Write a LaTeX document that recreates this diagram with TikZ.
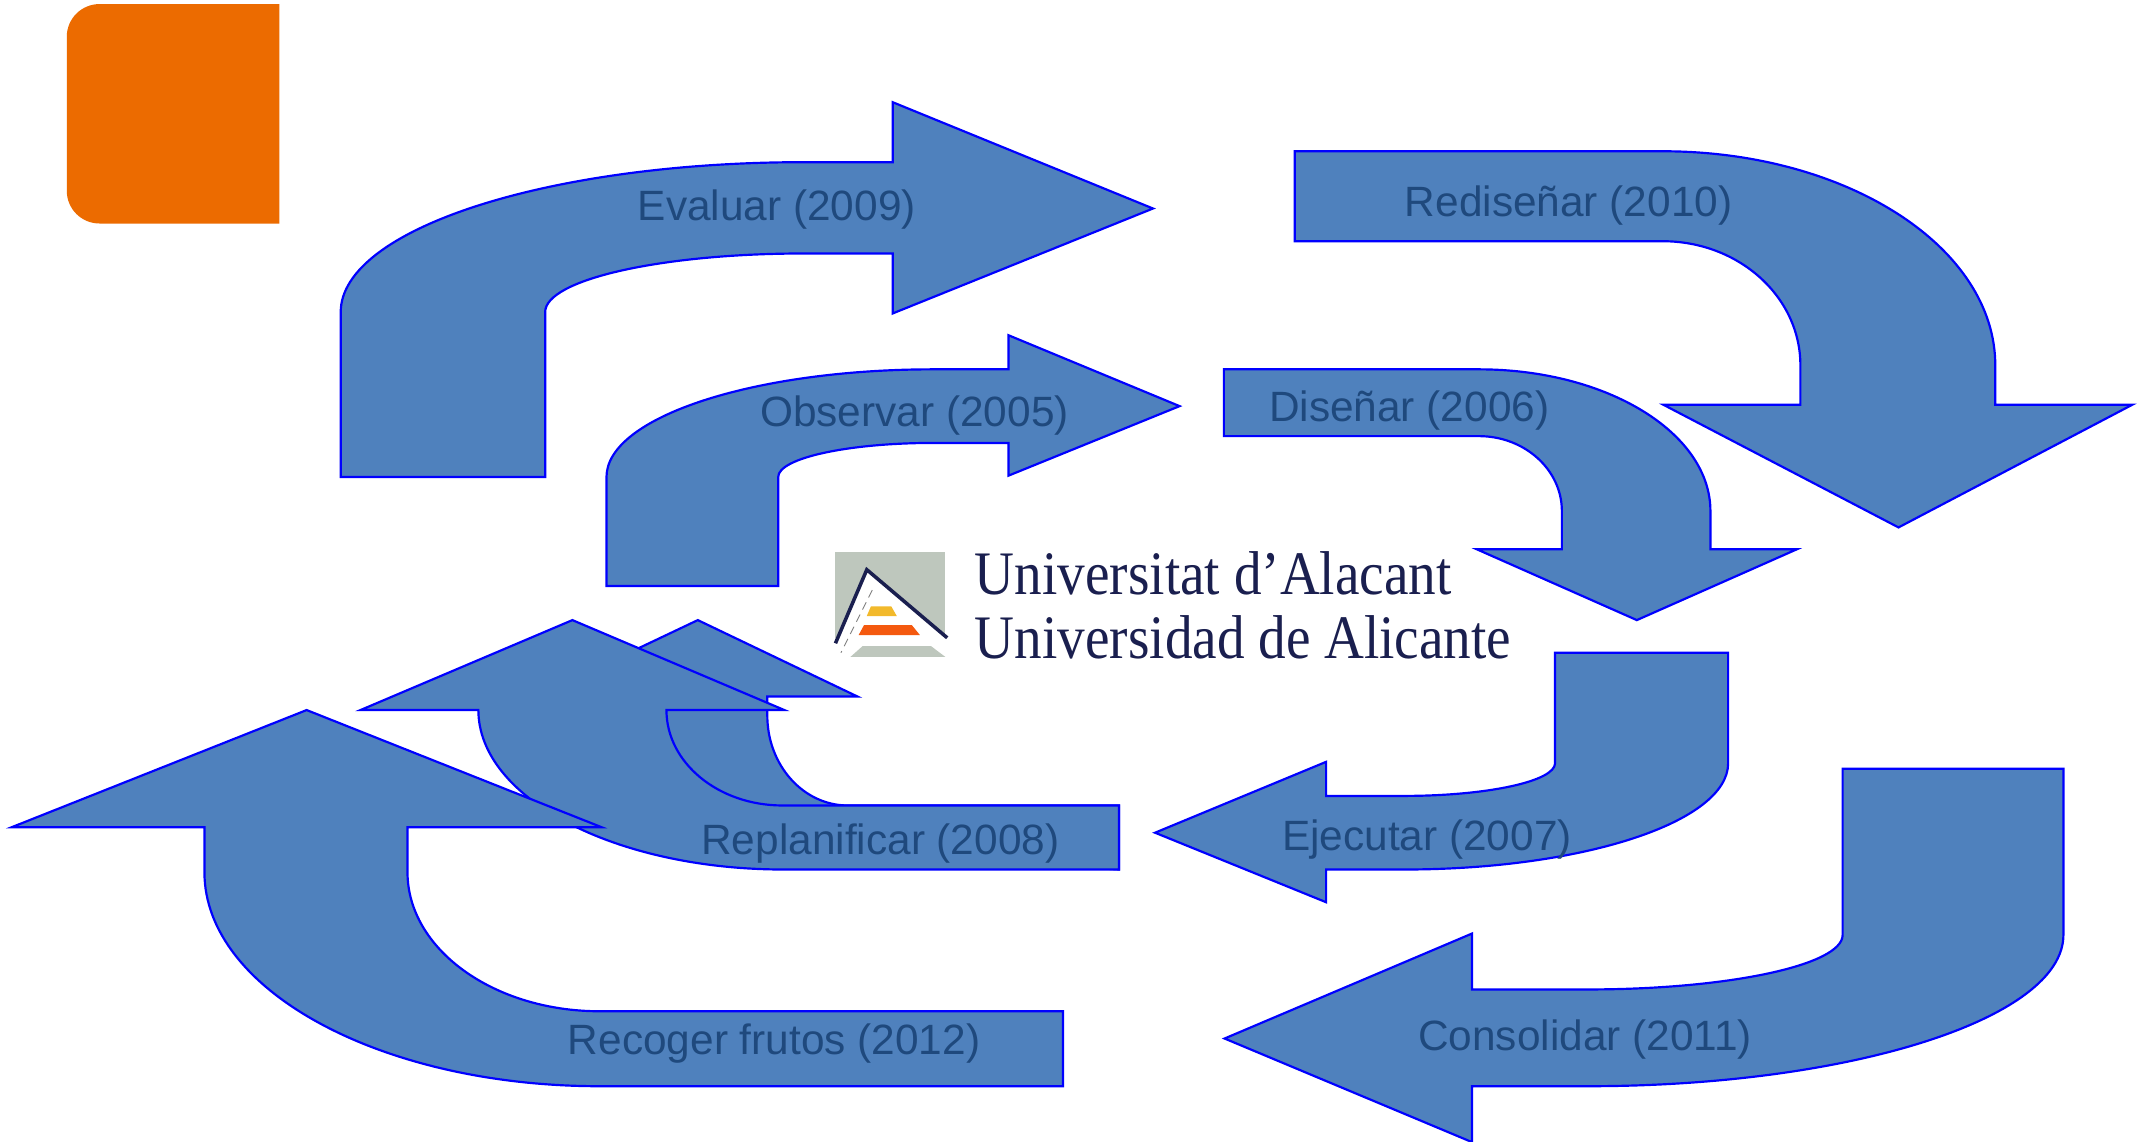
\documentclass[tikz,border=0pt]{standalone}
\usepackage{fontspec}
\setmainfont{Liberation Sans}
\newfontfamily\logofont{Liberation Serif}
\definecolor{arrowfill}{HTML}{4F81BD}
\definecolor{arrowline}{HTML}{0000FF}
\definecolor{labelblue}{HTML}{1F497D}
\definecolor{orangebox}{HTML}{EC6B00}
\definecolor{logogray}{HTML}{BEC7BD}
\definecolor{logonavy}{HTML}{1A1F4F}
\definecolor{logoyellow}{HTML}{F2B92B}
\definecolor{logored}{HTML}{F4590F}
% quarter ellipses: vertical tangent first / horizontal tangent first
\newcommand{\vh}[4]{.. controls ({#1},{#2+.5523*(#4-#2)}) and ({#3-.5523*(#3-#1)},{#4}) .. ({#3},{#4})}
\newcommand{\hv}[4]{.. controls ({#1+.5523*(#3-#1)},{#2}) and ({#3},{#4-.5523*(#4-#2)}) .. ({#3},{#4})}
\tikzset{
  bigarrow/.style={fill=arrowfill,draw=arrowline,line width=.8pt,miter limit=20},
  arrowlabel/.style={text=labelblue,font=\fontsize{15.55}{18}\selectfont,inner sep=0pt},
  logotext/.style={text=logonavy,font=\logofont\fontsize{22.7}{26}\selectfont,inner sep=0pt,anchor=base west,xscale=.892}
}
\begin{document}
\begin{tikzpicture}[x=.5pt,y=-.5pt]
\useasboundingbox (0,0) rectangle (1568,837.9);
\fill[white] (0,0) rectangle (1568,837.9);
% orange box
\fill[orangebox] (205,3) -- (73,3) \hv{73}{3}{49}{27} -- (49,140) \vh{49}{140}{73}{164} -- (205,164) -- cycle;
% logo
\fill[logogray] (612.7,405) rectangle (693.5,468);
\fill[white] (636,418) -- (613,472) -- (612.7,482) -- (693.5,482) -- (695,468) -- cycle;
\fill[logogray] (633,474) -- (683,474) -- (693.6,482) -- (624,482) -- cycle;
\fill[logoyellow] (639,445) -- (654,445) -- (658,452) -- (636,452) -- cycle;
\fill[logored] (634,458.6) -- (669,458.6) -- (675,466) -- (630,466) -- cycle;
\draw[gray,line width=.3pt,densely dashed] (640,433) -- (617,479);
\draw[logonavy,line width=1.3pt] (613,472) -- (636,418) -- (695,468);
\node[logotext] (logoa) at (715,436.5) {Universitat d’Alacant};
\node[logotext] (logob) at (715,483) {Universidad de Alicante};
% Evaluar
\draw[bigarrow] (250,350) -- (400,350) -- (400,229) \vh{400}{229}{590}{186} -- (655,186) -- (655,230) -- (846,153) -- (655,75) -- (655,119) -- (590,119) \hv{590}{119}{250}{229} -- cycle;
% Redisenar
\draw[bigarrow] (950,111) -- (1220,111) \hv{1220}{111}{1464}{268} -- (1464,297) -- (1564.5,297) -- (1393,387) -- (1220.5,297) -- (1321,297) -- (1321,268) \vh{1321}{268}{1220}{177} -- (950,177) -- cycle;
% Observar
\draw[bigarrow] (445,430) -- (571,430) -- (571,350) \vh{571}{350}{685}{325} -- (740,325) -- (740,349) -- (865.5,298) -- (740,246) -- (740,271) -- (685,271) \hv{685}{271}{445}{350} -- cycle;
% Disenar
\draw[bigarrow] (898,271) -- (1085,271) \hv{1085}{271}{1255}{375} -- (1255,403) -- (1318.5,403) -- (1201,455) -- (1083.5,403) -- (1146,403) -- (1146,375) \vh{1146}{375}{1085}{320} -- (898,320) -- cycle;
% Ejecutar
\draw[bigarrow] (1141,479) -- (1268,479) -- (1268,560) \vh{1268}{560}{1030}{638} -- (973,638) -- (973,662) -- (847.5,611) -- (973,559) -- (973,584) -- (1030,584) \hv{1030}{584}{1141}{560} -- cycle;
% Consolidar
\draw[bigarrow] (1352,564) -- (1514,564) -- (1514,686) \vh{1514}{686}{1165}{797} -- (1080,797) -- (1080,838) -- (898.5,762) -- (1080,685) -- (1080,726) -- (1165,726) \hv{1165}{726}{1352}{686} -- cycle;
% Replanificar: rear arrow
\draw[bigarrow] (394,511) -- (512,455) -- (629,511) -- (563,511) -- (563,525) \vh{563}{525}{622}{591} -- (821,591) -- (821,638) -- (622,625) \hv{622}{625}{460}{525} -- (460,511) -- cycle;
% Replanificar: front arrow
\draw[bigarrow] (264.5,521) -- (420,455) -- (575.5,521) -- (489,521) \vh{489}{521}{574}{591} -- (821,591) -- (821,638) -- (575,638) \hv{575}{638}{351}{521} -- cycle;
% Recoger
\draw[bigarrow] (780,742) -- (780,797) -- (440,797) \hv{440}{797}{150}{640} -- (150,607) -- (8.5,607) -- (225,521) -- (441.5,607) -- (299,607) -- (299,640) \vh{299}{640}{440}{742} -- cycle;
% labels
\node[arrowlabel] (evaluar) at (570,154) {Evaluar (2009)};
\node[arrowlabel] (redisenar) at (1151,151) {Rediseñar (2010)};
\node[arrowlabel] (observar) at (671,305) {Observar (2005)};
\node[arrowlabel] (disenar) at (1034,301.5) {Diseñar (2006)};
\node[arrowlabel] (ejecutar) at (1047,616) {Ejecutar (2007)};
\node[arrowlabel] (replanificar) at (646,619) {Replanificar (2008)};
\node[arrowlabel] (recoger) at (568,766) {Recoger frutos (2012)};
\node[arrowlabel] (consolidar) at (1163,763) {Consolidar (2011)};
\end{tikzpicture}
\end{document}
